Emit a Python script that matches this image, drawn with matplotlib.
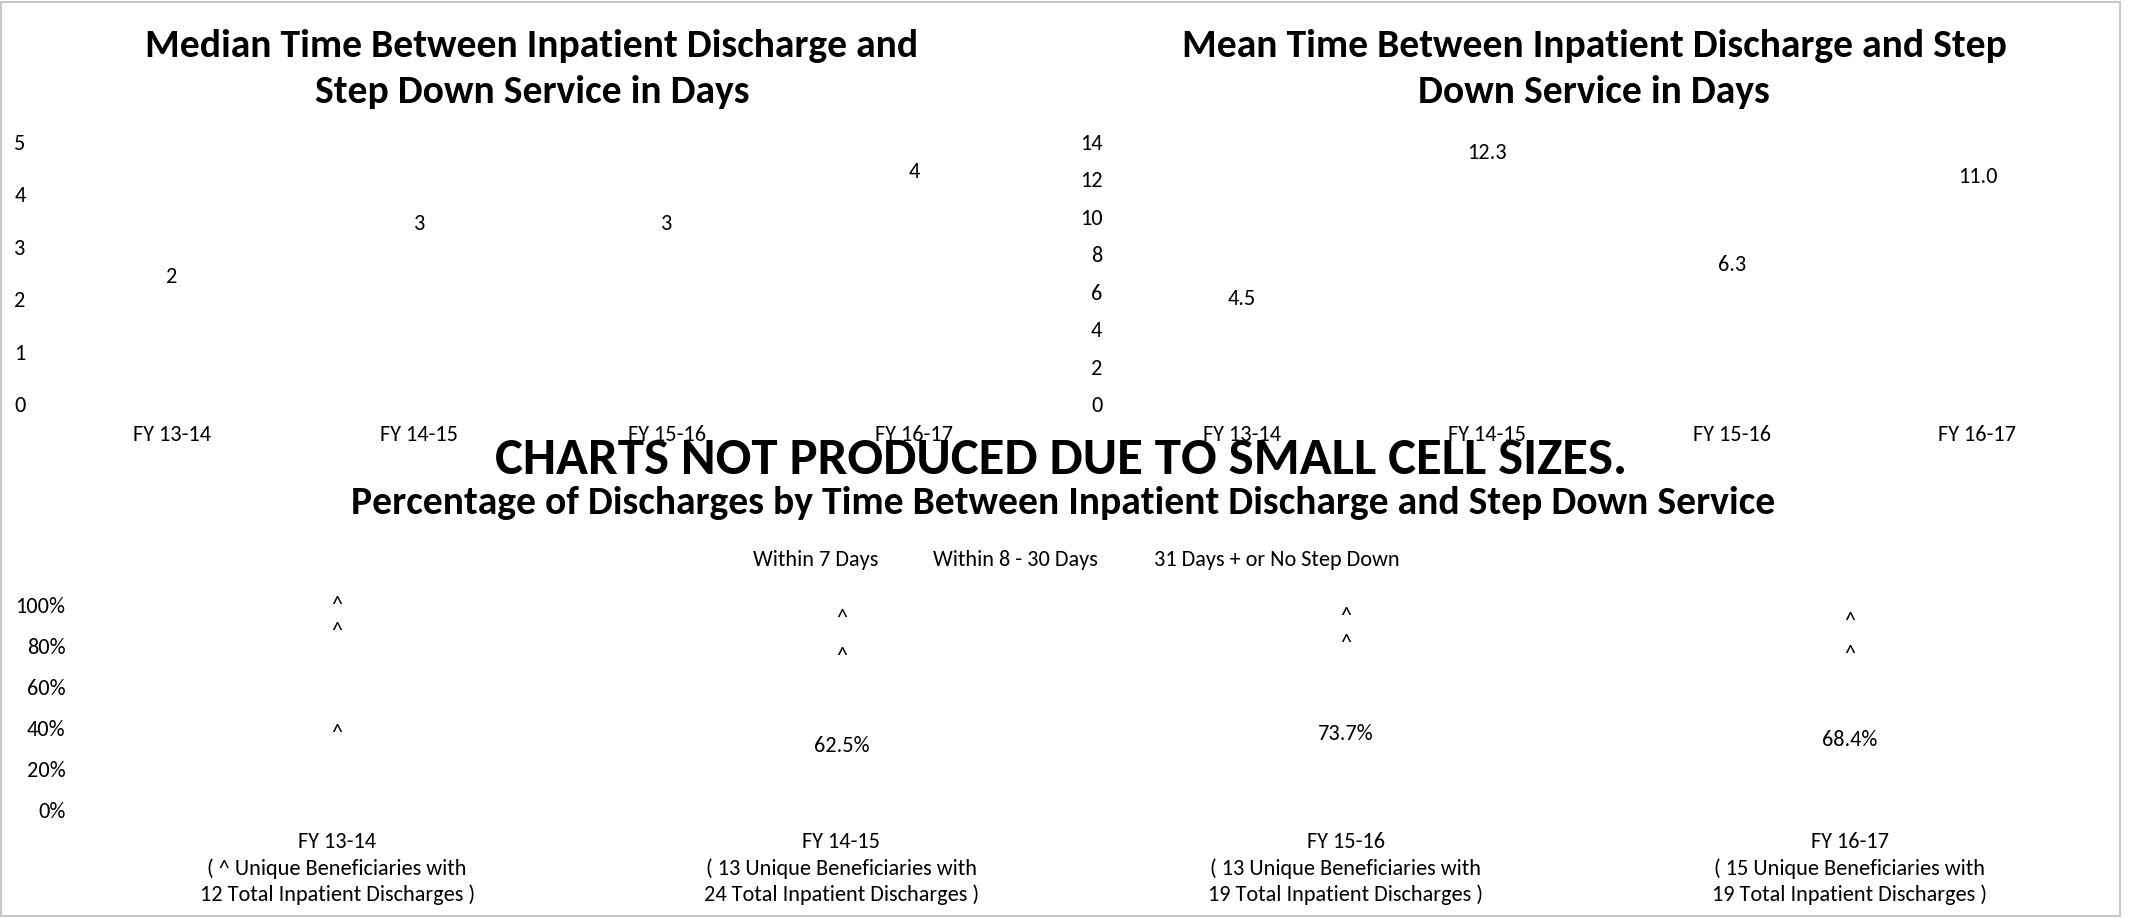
import matplotlib.pyplot as plt
from matplotlib.patches import Rectangle

plt.rcParams['font.family'] = ['Carlito', 'DejaVu Sans']

# data
years = ['FY 13-14', 'FY 14-15', 'FY 15-16', 'FY 16-17']
median_days = [2, 3, 3, 4]
mean_days = [4.5, 12.3, 6.3, 11.0]

# stacked percentages (suppressed cells shown as ^)
within_7 = [75.0, 62.5, 73.7, 68.4]
within_8_30 = [25.0, 25.0, 15.8, 15.8]
days_31_plus = [0.0, 12.5, 10.5, 15.8]
within_7_lbl = ['^', '62.5%', '73.7%', '68.4%']
within_8_30_lbl = ['^', '^', '^', '^']
days_31_lbl = ['^', '^', '^', '^']
series_names = ['Within 7 Days', 'Within 8 - 30 Days', '31 Days + or No Step Down']

beneficiaries = ['^', '13', '13', '15']
discharges = [12, 24, 19, 19]

FS = 16
TFS = 28.5

fig = plt.figure(figsize=(21.42, 9.18), dpi=100)
W, H = 2142, 918


def box(x0, x1, ytop, ybot):
    return [x0 / W, 1 - ybot / H, (x1 - x0) / W, (ybot - ytop) / H]


def clean(ax):
    for s in ax.spines.values():
        s.set_visible(False)
    ax.tick_params(length=0, labelsize=FS)


# ---- median chart
ax1 = fig.add_axes(box(48, 1038, 142, 404))
b1 = ax1.bar(range(4), median_days, width=0.5, color='none')
ax1.bar_label(b1, labels=[str(v) for v in median_days], padding=9, fontsize=FS)
ax1.set_ylim(0, 5)
ax1.set_xlim(-0.5, 3.5)
ax1.set_yticks(range(0, 6))
ax1.set_xticks(range(4))
ax1.set_xticklabels(years)
clean(ax1)
ax1.tick_params(axis='y', pad=16)
ax1.tick_params(axis='x', pad=15)
fig.text(532 / W, 1 - 69 / H, 'Median Time Between Inpatient Discharge and\nStep Down Service in Days',
         ha='center', va='center', fontsize=TFS, fontweight='bold', linespacing=1.45)

# ---- mean chart
ax2 = fig.add_axes(box(1119, 2100, 142, 404))
b2 = ax2.bar(range(4), mean_days, width=0.5, color='none')
ax2.bar_label(b2, labels=['%.1f' % v for v in mean_days], padding=8, fontsize=FS)
ax2.set_ylim(0, 14)
ax2.set_xlim(-0.5, 3.5)
ax2.set_yticks(range(0, 15, 2))
ax2.set_xticks(range(4))
ax2.set_xticklabels(years)
clean(ax2)
ax2.tick_params(axis='y', pad=12)
ax2.tick_params(axis='x', pad=15)
fig.text(1594 / W, 1 - 69 / H, 'Mean Time Between Inpatient Discharge and Step\nDown Service in Days',
         ha='center', va='center', fontsize=TFS, fontweight='bold', linespacing=1.45)

# ---- stacked percentage chart
ax3 = fig.add_axes(box(85, 2102, 605, 810))
x = range(4)
s1 = ax3.bar(x, within_7, width=0.5, color='none', label=series_names[0])
s2 = ax3.bar(x, within_8_30, width=0.5, bottom=within_7, color='none', label=series_names[1])
bottom3 = [a + b for a, b in zip(within_7, within_8_30)]
s3 = ax3.bar(x, days_31_plus, width=0.5, bottom=bottom3, color='none', label=series_names[2])
ax3.bar_label(s1, labels=within_7_lbl, label_type='center', fontsize=FS)
ax3.bar_label(s2, labels=within_8_30_lbl, label_type='center', fontsize=FS)
ax3.bar_label(s3, labels=days_31_lbl, label_type='center', fontsize=FS)
ax3.set_ylim(0, 100)
ax3.set_xlim(-0.5, 3.5)
ax3.set_yticks(range(0, 101, 20))
ax3.set_yticklabels(['%d%%' % v for v in range(0, 101, 20)])
ax3.set_xticks(list(x))
ax3.set_xticklabels(['%s\n( %s Unique Beneficiaries with\n%d Total Inpatient Discharges )' % (y, b, d)
                     for y, b, d in zip(years, beneficiaries, discharges)], linespacing=1.35)
clean(ax3)
ax3.tick_params(axis='y', pad=14)
ax3.tick_params(axis='x', pad=16)
ax3.legend(loc='center', bbox_to_anchor=(1076 / W, 1 - 560 / H), bbox_transform=fig.transFigure,
           ncol=3, frameon=False, fontsize=FS, handlelength=0, handletextpad=0, columnspacing=2.5)

fig.text(1061 / W, 1 - 460 / H, 'CHARTS NOT PRODUCED DUE TO SMALL CELL SIZES.',
         ha='center', va='center', fontsize=38, fontweight='bold')
fig.text(1063 / W, 1 - 503 / H,
         'Percentage of Discharges by Time Between Inpatient Discharge and Step Down Service',
         ha='center', va='center', fontsize=TFS, fontweight='bold')

# outer frame
fig.patches.append(Rectangle((1 / W, 2 / H), 2119 / W, 914 / H, transform=fig.transFigure,
                             fill=False, edgecolor='#c8c8c8', linewidth=1.5))

fig.savefig('out.png', dpi=100)
